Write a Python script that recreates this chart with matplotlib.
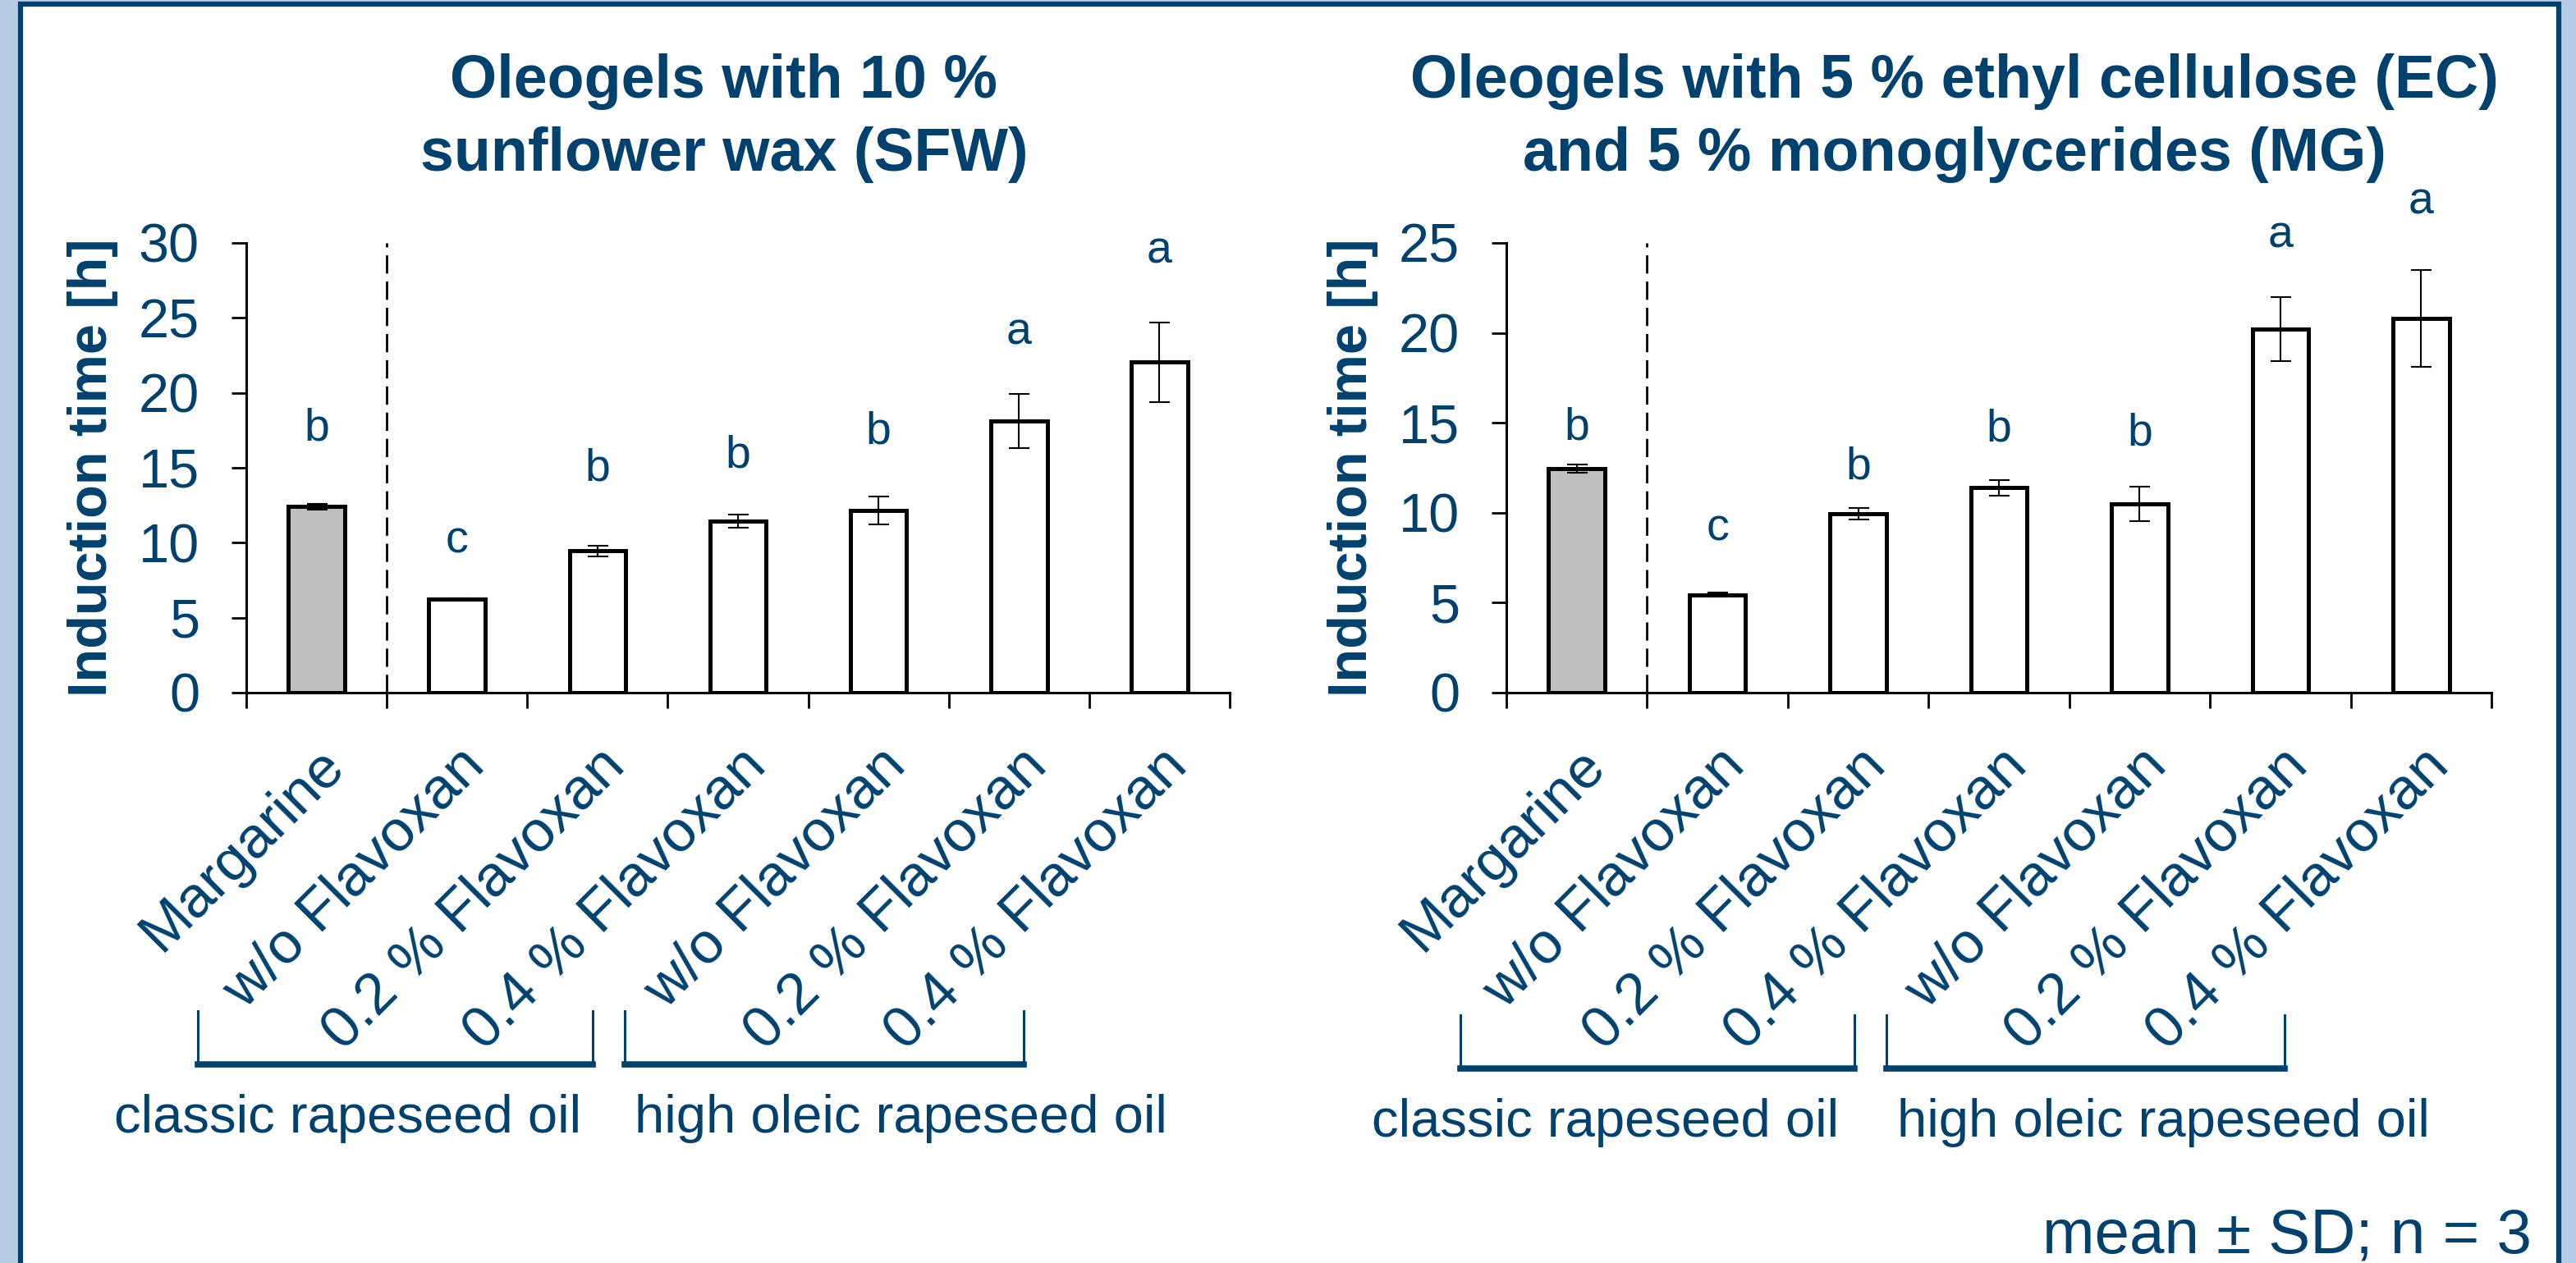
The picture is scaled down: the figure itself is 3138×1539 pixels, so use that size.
import matplotlib
matplotlib.use('Agg')
import matplotlib.pyplot as plt
from matplotlib.patches import Rectangle
import numpy as np

plt.rcParams['font.family'] = ['Liberation Sans', 'DejaVu Sans']

# data
labels = ['Margarine', 'w/o Flavoxan', '0.2 % Flavoxan', '0.4 % Flavoxan',
          'w/o Flavoxan', '0.2 % Flavoxan', '0.4 % Flavoxan']
letters = ['b', 'c', 'b', 'b', 'b', 'a', 'a']

# SFW oleogels
sfw_mean = [12.4, 6.25, 9.45, 11.45, 12.15, 18.1, 22.05]
sfw_sd = [0.2, 0.05, 0.35, 0.45, 0.95, 1.8, 2.65]
sfw_letter_y = [17.6, 10.1, 14.9, 15.8, 17.4, 24.0, 29.4]

# EC + MG oleogels
ecmg_mean = [12.45, 5.45, 9.95, 11.4, 10.5, 20.2, 20.8]
ecmg_sd = [0.22, 0.1, 0.33, 0.43, 0.95, 1.78, 2.68]
ecmg_letter_y = [14.7, 9.1, 12.5, 14.6, 14.4, 25.4, 27.25]

blue = '#00416e'
W, H = 3138, 1539

fig = plt.figure(figsize=(W / 100, H / 100), dpi=100)
fig.patch.set_facecolor('#b5cce2')
fig.patches.append(Rectangle((25 / W, -0.01), (3117 - 25) / W, 1.01 - 5 / H,
                             transform=fig.transFigure, facecolor='white',
                             edgecolor=blue, linewidth=4.5, zorder=-5))


def px(x, y):
    return x / W, 1 - y / H


def panel(x0, x1, ymax, step, mean, sd, letter_y):
    ax = fig.add_axes([x0 / W, 1 - 844 / H, (x1 - x0) / W, (844 - 296) / H])
    ax.patch.set_alpha(0)
    ax.set_zorder(2)
    x = np.arange(len(labels))
    colors = ['#bfbfbf'] + ['white'] * (len(labels) - 1)
    ax.bar(x, mean, 0.4, color=colors, edgecolor='black', linewidth=3.6, zorder=2)
    ax.errorbar(x, mean, yerr=sd, fmt='none', ecolor='black', elinewidth=1.5,
                capsize=9, capthick=1.5, zorder=3)
    for xi, t, yy in zip(x, letters, letter_y):
        ax.text(xi, yy, t, ha='center', va='center', fontsize=40, color=blue,
                clip_on=False)
    ax.plot([0.5, 0.5], [0, ymax], color='black', linewidth=2,
            linestyle=(0, (8, 3.5)), zorder=1)
    ax.set_xlim(-0.5, len(labels) - 0.5)
    ax.set_ylim(0, ymax)
    ax.set_yticks(np.arange(0, ymax + 1, step))
    ax.set_xticks(np.arange(-0.5, len(labels), 1))
    ax.set_xticklabels([])
    ax.set_xticks(x, minor=True)
    ax.set_xticklabels(labels, minor=True, rotation=45, ha='right', va='top',
                       rotation_mode='anchor', fontsize=51, color=blue)
    ax.tick_params(axis='x', which='minor', length=0, pad=40)
    ax.tick_params(axis='x', which='major', length=14, width=2, direction='out')
    ax.tick_params(axis='y', length=13, width=2, direction='out', pad=28,
                   labelsize=48, labelcolor=blue)
    for s in ['top', 'right']:
        ax.spines[s].set_visible(False)
    for s in ['left', 'bottom']:
        ax.spines[s].set_linewidth(2.2)
    ax.text(-0.156, 0.5, 'Induction time [h]', transform=ax.transAxes,
            rotation=90, ha='center', va='center', fontsize=48,
            fontweight='bold', color=blue)
    return ax


panel(300, 1498, 30, 5, sfw_mean, sfw_sd, sfw_letter_y)
panel(1835, 3035, 25, 5, ecmg_mean, ecmg_sd, ecmg_letter_y)

# titles
for cx, lines in [(882, ['Oleogels with 10 %', 'sunflower wax (SFW)']),
                  (2381, ['Oleogels with 5 % ethyl cellulose (EC)',
                          'and 5 % monoglycerides (MG)'])]:
    for yb, t in zip([119, 208], lines):
        fig.text(*px(cx, yb), t, ha='center', va='baseline', fontsize=53,
                 fontweight='bold', color=blue)

# oil group brackets
brackets = [(241, 722, 1232, 1297), (761, 1247, 1232, 1297),
            (1779, 2259, 1237, 1302), (2298, 2783, 1237, 1302)]
for xa, xb, ya, yb in brackets:
    fig.add_artist(plt.Line2D([xa / W, xa / W], [1 - ya / H, 1 - yb / H],
                              color=blue, linewidth=2.2))
    fig.add_artist(plt.Line2D([xb / W, xb / W], [1 - ya / H, 1 - yb / H],
                              color=blue, linewidth=2.2))
    fig.add_artist(plt.Line2D([xa / W, xb / W], [1 - yb / H, 1 - yb / H],
                              color=blue, linewidth=5.5))

groups = [(424, 1380, 'classic rapeseed oil'), (1097, 1380, 'high oleic rapeseed oil'),
          (1956, 1385, 'classic rapeseed oil'), (2635, 1385, 'high oleic rapeseed oil')]
for cx, yb, t in groups:
    fig.text(*px(cx, yb), t, ha='center', va='baseline', fontsize=47, color=blue)

fig.text(*px(3084, 1527), 'mean \u00b1 SD; n = 3', ha='right', va='baseline',
         fontsize=55, color=blue)

fig.savefig('out.png', dpi=100, facecolor=fig.get_facecolor())
